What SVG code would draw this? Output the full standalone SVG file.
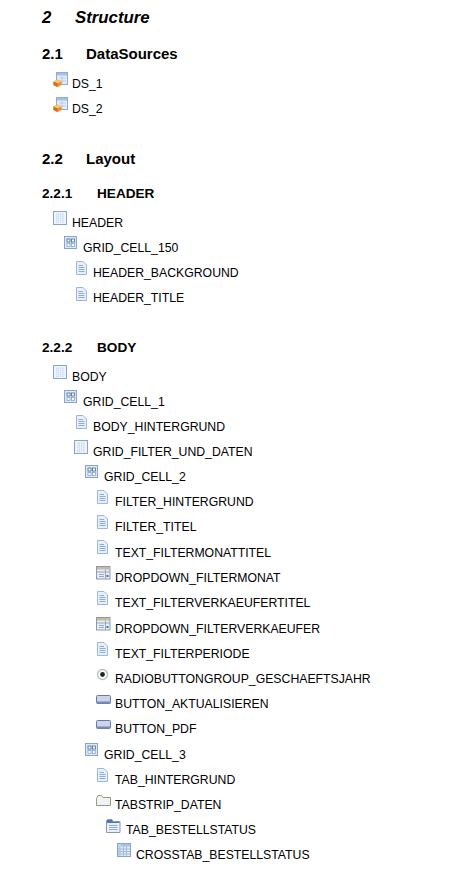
<svg xmlns="http://www.w3.org/2000/svg" xmlns:xlink="http://www.w3.org/1999/xlink" width="472" height="869" viewBox="0 0 472 869">
<style>
text{font-family:"Liberation Sans",Arial,sans-serif;fill:#000}
.t{font-size:12.25px}
.h1{font-size:16.8px;font-weight:bold;font-style:italic}
.h2{font-size:15px;font-weight:bold}
.h3{font-size:13.6px;font-weight:bold}
</style>
<defs>
<symbol id="ds" width="16" height="16" viewBox="0 0 16 16" overflow="visible">
<rect x="3.5" y="0.5" width="11" height="12" fill="#e4edf8" stroke="#8fabd2"/>
<rect x="4" y="1" width="10" height="2.5" fill="#a4c0e4"/>
<path d="M6 6H13M6 9H13M9 4V12" stroke="#b8cce6" fill="none"/>
<path d="M0.5 9.5L4.5 7.5L8.5 9.5V13L4.5 15L0.5 13Z" fill="#ee9020"/>
<path d="M0.5 9.5L4.5 7.5L8.5 9.5L4.5 11.5Z" fill="#f8c878"/>
<path d="M4.5 11.5V15L0.5 13V9.5Z" fill="#d86a18"/>
</symbol>
<symbol id="gridTable" width="15" height="15" viewBox="0 0 15 15">
<rect x="0.5" y="0.5" width="13" height="13" fill="#eef4fc" stroke="#86a6d0"/>
<path d="M3 3.5H11M3 5.5H11M3 7.5H11M3 9.5H11M3 11.5H11" stroke="#c4d6f0" stroke-dasharray="1 1" fill="none"/>
<path d="M5 2V12M7.5 2V12M10 2V12" stroke="#d0dff2" fill="none"/>
</symbol>
<symbol id="cell" width="14" height="14" viewBox="0 0 14 14">
<rect x="0.5" y="0.5" width="12" height="12" fill="#dce8f7" stroke="#86a6d0"/>
<rect x="3" y="3" width="3" height="3" fill="#fff" stroke="#48688f" stroke-width="0.8"/>
<rect x="7.5" y="3" width="3" height="3" fill="#fff" stroke="#48688f" stroke-width="0.8"/>
<rect x="3" y="7.5" width="3" height="3" fill="#fff" stroke="#86a6d0" stroke-width="0.8"/>
<rect x="7.5" y="7.5" width="3" height="3" fill="#fff" stroke="#86a6d0" stroke-width="0.8"/>
</symbol>
<symbol id="doc" width="13" height="15" viewBox="0 0 13 15">
<path d="M1.5 0.5H8L11.5 4V13.5H1.5Z" fill="#e8f0fb" stroke="#9ab6dc"/>
<path d="M3.5 4.5H8M3.5 6.5H9.5M3.5 8.5H9.5M3.5 10.5H9.5" stroke="#8fabd4" fill="none"/>
</symbol>
<symbol id="dd" width="15" height="14" viewBox="0 0 15 14">
<rect x="0.5" y="0.5" width="13.5" height="12.5" fill="#e8eef6" stroke="#8a98b0"/>
<rect x="1" y="1" width="12.5" height="2.5" fill="#c4bc9c"/>
<path d="M1 6H14M9.5 3.5V13" stroke="#98a6be" fill="none"/>
<path d="M3 8.5H8M3 10.5H8" stroke="#8fabd4" fill="none"/>
<rect x="10.5" y="9" width="2" height="2" fill="#5a6e8c"/>
</symbol>
<symbol id="radio" width="13" height="13" viewBox="0 0 13 13">
<circle cx="6.5" cy="6.5" r="5" fill="#fff" stroke="#b4c4bc" stroke-width="1.4"/>
<circle cx="6.5" cy="6.5" r="2.4" fill="#222"/>
</symbol>
<symbol id="btn" width="15" height="10" viewBox="0 0 15 10">
<rect x="0.5" y="0.5" width="14" height="8" rx="1" fill="#ccd4ea" stroke="#6a78a8"/>
<rect x="1" y="6.5" width="13" height="2" fill="#7a88b4"/>
</symbol>
<symbol id="tabstrip" width="15" height="12" viewBox="0 0 15 12">
<path d="M0.5 3.5V10.5H14.5V2.5H7L5.5 0.5H2Z" fill="#eef3fa" stroke="#9a9878"/>
</symbol>
<symbol id="tab" width="15" height="14" viewBox="0 0 15 14">
<path d="M0.5 2V13.5H14V2.5H7L6 0.5H1.5Z" fill="#e8f0fb" stroke="#8a98aa"/>
<path d="M1 1H6L7 3H13.5V4H1Z" fill="#4a78b4"/>
<path d="M3 6.5H11.5M3 8.5H11.5M3 10.5H11.5" stroke="#98acc8" fill="none"/>
</symbol>
<symbol id="xtab" width="15" height="15" viewBox="0 0 15 15">
<rect x="0.5" y="0.5" width="13" height="13" fill="#e4edf9" stroke="#86a6d0"/>
<rect x="1" y="1" width="12" height="2.5" fill="#a8c2e4"/>
<rect x="1" y="1" width="3" height="12" fill="#c0d2ec"/>
<path d="M1 6H13M1 8.5H13M1 11H13M6.5 3V13M9.5 3V13" stroke="#a0b8dc" fill="none"/>
</symbol>
</defs>

<g id="headings">
<text class="h1" x="42" y="23">2</text><text class="h1" x="75" y="23">Structure</text>
<text class="h2" x="42" y="59">2.1</text><text class="h2" x="86" y="59">DataSources</text>
<text class="h2" x="42" y="164">2.2</text><text class="h2" x="86" y="164">Layout</text>
<text class="h3" x="42" y="198">2.2.1</text><text class="h3" x="97" y="198">HEADER</text>
<text class="h3" x="42" y="352">2.2.2</text><text class="h3" x="97" y="352">BODY</text>
</g>

<g id="connectors"></g>

<g id="n-ds1"><use href="#ds" x="53" y="72"/><text class="t" x="72" y="88">DS_1</text></g>
<g id="n-ds2"><use href="#ds" x="53" y="97"/><text class="t" x="72" y="113">DS_2</text></g>

<g id="n-header"><use href="#gridTable" x="53" y="211"/><text class="t" x="72" y="227">HEADER</text></g>
<g id="n-cell150"><use href="#cell" x="64" y="236"/><text class="t" x="83" y="252">GRID_CELL_150</text></g>
<g id="n-hbg"><use href="#doc" x="75" y="261"/><text class="t" x="93" y="277">HEADER_BACKGROUND</text></g>
<g id="n-htitle"><use href="#doc" x="75" y="287"/><text class="t" x="93" y="302">HEADER_TITLE</text></g>

<g id="n-body"><use href="#gridTable" x="53" y="365"/><text class="t" x="72" y="381">BODY</text></g>
<g id="n-cell1"><use href="#cell" x="64" y="390"/><text class="t" x="83" y="406">GRID_CELL_1</text></g>
<g id="n-bodyh"><use href="#doc" x="75" y="415"/><text class="t" x="93" y="431">BODY_HINTERGRUND</text></g>
<g id="n-gfd"><use href="#gridTable" x="74" y="440"/><text class="t" x="93" y="456">GRID_FILTER_UND_DATEN</text></g>
<g id="n-cell2"><use href="#cell" x="85" y="465"/><text class="t" x="104" y="481">GRID_CELL_2</text></g>
<g id="n-fh"><use href="#doc" x="96" y="490"/><text class="t" x="115" y="506">FILTER_HINTERGRUND</text></g>
<g id="n-ft"><use href="#doc" x="96" y="515"/><text class="t" x="115" y="531">FILTER_TITEL</text></g>
<g id="n-tfm"><use href="#doc" x="96" y="540"/><text class="t" x="115" y="557">TEXT_FILTERMONATTITEL</text></g>
<g id="n-ddm"><use href="#dd" x="96" y="566"/><text class="t" x="115" y="582">DROPDOWN_FILTERMONAT</text></g>
<g id="n-tfv"><use href="#doc" x="96" y="591"/><text class="t" x="115" y="607">TEXT_FILTERVERKAEUFERTITEL</text></g>
<g id="n-ddv"><use href="#dd" x="96" y="617"/><text class="t" x="115" y="633">DROPDOWN_FILTERVERKAEUFER</text></g>
<g id="n-tfp"><use href="#doc" x="96" y="642"/><text class="t" x="115" y="658">TEXT_FILTERPERIODE</text></g>
<g id="n-radio"><use href="#radio" x="96" y="668"/><text class="t" x="115" y="683">RADIOBUTTONGROUP_GESCHAEFTSJAHR</text></g>
<g id="n-ba"><use href="#btn" x="96" y="695"/><text class="t" x="115" y="708">BUTTON_AKTUALISIEREN</text></g>
<g id="n-bp"><use href="#btn" x="96" y="720"/><text class="t" x="115" y="733">BUTTON_PDF</text></g>
<g id="n-cell3"><use href="#cell" x="85" y="743"/><text class="t" x="104" y="759">GRID_CELL_3</text></g>
<g id="n-tabh"><use href="#doc" x="96" y="768"/><text class="t" x="115" y="784">TAB_HINTERGRUND</text></g>
<g id="n-tabstrip"><use href="#tabstrip" x="96" y="795"/><text class="t" x="115" y="809">TABSTRIP_DATEN</text></g>
<g id="n-tabb"><use href="#tab" x="106" y="819"/><text class="t" x="126" y="834">TAB_BESTELLSTATUS</text></g>
<g id="n-xtab"><use href="#xtab" x="117" y="843"/><text class="t" x="136" y="859">CROSSTAB_BESTELLSTATUS</text></g>
</svg>
